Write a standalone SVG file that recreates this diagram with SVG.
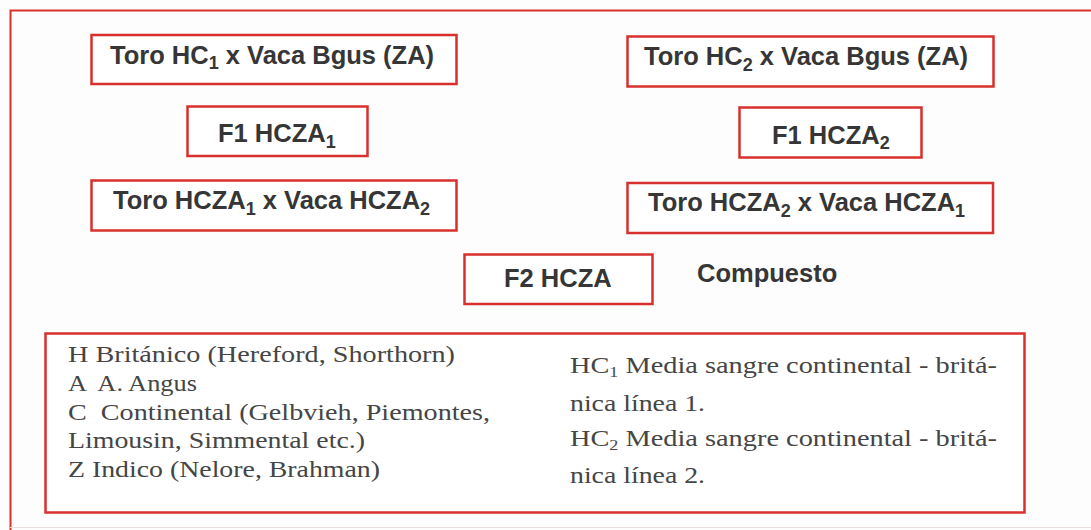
<svg xmlns="http://www.w3.org/2000/svg" width="1091" height="530" viewBox="0 0 1091 530">
<style>
.box{fill:#ffffff;stroke:#d8302c;stroke-width:2.5}
.frame{fill:none;stroke:#d8302c;stroke-width:2}
.lbl{font-family:"Liberation Sans",Arial,sans-serif;font-weight:bold;font-size:25.5px;fill:#363636}
.sub{font-size:18px}
.leg{font-family:"Liberation Serif","Times New Roman",serif;font-size:23.5px;fill:#454545}
.lsub{font-size:15px}
</style>
<rect x="0" y="0" width="1091" height="530" fill="#fdfdfd"/>
<g id="frame">
<path class="frame" d="M1091 10.5 H10.5 V530"/>
<line x1="10" y1="527.5" x2="1091" y2="527.5" stroke="#ecdcdc" stroke-width="1"/>
</g>
<g id="connectors"></g>
<g id="cross1">
<rect class="box" x="91.5" y="35" width="365" height="49"/>
<text class="lbl" x="110" y="63.5">Toro HC<tspan class="sub" dy="5.5">1</tspan><tspan dy="-5.5"> x Vaca Bgus (ZA)</tspan></text>
</g>
<g id="f1-hcza1">
<rect class="box" x="187.5" y="106.5" width="180" height="49.5"/>
<text class="lbl" x="218" y="142">F1 HCZA<tspan class="sub" dy="5.5">1</tspan></text>
</g>
<g id="cross2">
<rect class="box" x="627.5" y="36.5" width="366" height="50"/>
<text class="lbl" x="644" y="65">Toro HC<tspan class="sub" dy="5.5">2</tspan><tspan dy="-5.5"> x Vaca Bgus (ZA)</tspan></text>
</g>
<g id="f1-hcza2">
<rect class="box" x="739.5" y="107.5" width="182" height="50"/>
<text class="lbl" x="772" y="143.5">F1 HCZA<tspan class="sub" dy="5.5">2</tspan></text>
</g>
<g id="cross3">
<rect class="box" x="91.5" y="180.5" width="365" height="50"/>
<text class="lbl" x="113" y="209">Toro HCZA<tspan class="sub" dy="5.5">1</tspan><tspan dy="-5.5"> x Vaca HCZA</tspan><tspan class="sub" dy="5.5">2</tspan></text>
</g>
<g id="cross4">
<rect class="box" x="627.5" y="183" width="365.5" height="50"/>
<text class="lbl" x="648" y="211">Toro HCZA<tspan class="sub" dy="5.5">2</tspan><tspan dy="-5.5"> x Vaca HCZA</tspan><tspan class="sub" dy="5.5">1</tspan></text>
</g>
<g id="f2-hcza">
<rect class="box" x="464.5" y="254.5" width="188" height="49.5"/>
<text class="lbl" x="504" y="287">F2 HCZA</text>
</g>
<g id="compuesto">
<text class="lbl" x="697" y="282">Compuesto</text>
</g>
<g id="legend">
<rect class="box" x="45.5" y="333.5" width="979" height="179"/>
<text class="leg" x="68" y="362" textLength="387" lengthAdjust="spacingAndGlyphs">H Británico (Hereford, Shorthorn)</text>
<text class="leg" x="68" y="391" textLength="129" lengthAdjust="spacingAndGlyphs" xml:space="preserve">A  A. Angus</text>
<text class="leg" x="68" y="420" textLength="422" lengthAdjust="spacingAndGlyphs" xml:space="preserve">C  Continental (Gelbvieh, Piemontes,</text>
<text class="leg" x="68" y="448" textLength="297" lengthAdjust="spacingAndGlyphs">Limousin, Simmental etc.)</text>
<text class="leg" x="68" y="477" textLength="312" lengthAdjust="spacingAndGlyphs">Z Indico (Nelore, Brahman)</text>
<text class="leg" x="570" y="373" textLength="427" lengthAdjust="spacingAndGlyphs">HC<tspan class="lsub" dy="4">1</tspan><tspan dy="-4"> Media sangre continental - britá-</tspan></text>
<text class="leg" x="570" y="411" textLength="135" lengthAdjust="spacingAndGlyphs">nica línea 1.</text>
<text class="leg" x="570" y="446" textLength="427" lengthAdjust="spacingAndGlyphs">HC<tspan class="lsub" dy="4">2</tspan><tspan dy="-4"> Media sangre continental - britá-</tspan></text>
<text class="leg" x="570" y="483" textLength="135" lengthAdjust="spacingAndGlyphs">nica línea 2.</text>
</g>
</svg>
